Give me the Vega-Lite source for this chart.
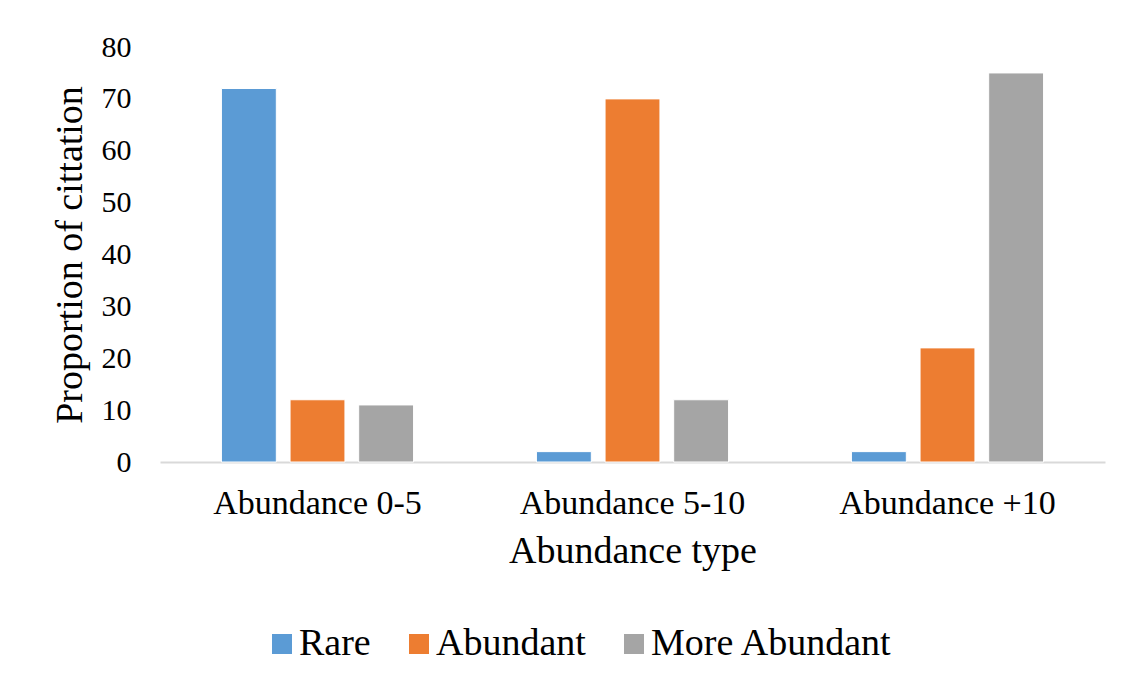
{
  "$schema": "https://vega.github.io/schema/vega-lite/v6.json",
  "width": 945,
  "height": 415,
  "autosize": "none",
  "padding": {"left": 160, "top": 47, "right": 23, "bottom": 222},
  "background": "white",
  "data": {
    "values": [
      {"group": "Abundance 0-5", "type": "Rare", "value": 72},
      {"group": "Abundance 0-5", "type": "Abundant", "value": 12},
      {"group": "Abundance 0-5", "type": "More Abundant", "value": 11},
      {"group": "Abundance 5-10", "type": "Rare", "value": 2},
      {"group": "Abundance 5-10", "type": "Abundant", "value": 70},
      {"group": "Abundance 5-10", "type": "More Abundant", "value": 12},
      {"group": "Abundance +10", "type": "Rare", "value": 2},
      {"group": "Abundance +10", "type": "Abundant", "value": 22},
      {"group": "Abundance +10", "type": "More Abundant", "value": 75}
    ]
  },
  "mark": {"type": "bar", "stroke": "white", "strokeWidth": 1},
  "encoding": {
    "x": {
      "field": "group",
      "type": "nominal",
      "sort": ["Abundance 0-5", "Abundance 5-10", "Abundance +10"],
      "scale": {"paddingInner": 0.39, "paddingOuter": 0.195},
      "title": "Abundance type",
      "axis": {
        "labelAngle": 0,
        "labelFont": "Liberation Serif",
        "labelFontSize": 34,
        "labelColor": "#000000",
        "labelPadding": 24,
        "labelLimit": 400,
        "ticks": false,
        "domainColor": "#d9d9d9",
        "domainWidth": 2,
        "titleFont": "Liberation Serif",
        "titleFontSize": 38,
        "titleFontWeight": "normal",
        "titleColor": "#000000",
        "titlePadding": 12
      }
    },
    "xOffset": {
      "field": "type",
      "type": "nominal",
      "sort": ["Rare", "Abundant", "More Abundant"],
      "scale": {"paddingInner": 0.2, "paddingOuter": 0}
    },
    "y": {
      "field": "value",
      "type": "quantitative",
      "scale": {"domain": [0, 80], "nice": false},
      "title": "Proportion of cittation",
      "axis": {
        "values": [0, 10, 20, 30, 40, 50, 60, 70, 80],
        "grid": false,
        "domain": false,
        "ticks": false,
        "labelFont": "Liberation Serif",
        "labelFontSize": 30,
        "labelColor": "#000000",
        "labelPadding": 29,
        "titleFont": "Liberation Serif",
        "titleFontSize": 38,
        "titleFontWeight": "normal",
        "titleColor": "#000000",
        "titlePadding": 12
      }
    },
    "color": {
      "field": "type",
      "type": "nominal",
      "sort": ["Rare", "Abundant", "More Abundant"],
      "scale": {
        "domain": ["Rare", "Abundant", "More Abundant"],
        "range": ["#5b9bd5", "#ed7d31", "#a5a5a5"]
      },
      "legend": {
        "title": null,
        "orient": "none",
        "direction": "horizontal",
        "legendX": 103,
        "legendY": 578,
        "symbolType": "square",
        "symbolSize": 400,
        "symbolStrokeWidth": 0,
        "labelFont": "Liberation Serif",
        "labelFontSize": 38,
        "labelColor": "#000000",
        "labelOffset": -2,
        "columnPadding": 29,
        "labelLimit": 400
      }
    }
  },
  "config": {"view": {"stroke": null}}
}
